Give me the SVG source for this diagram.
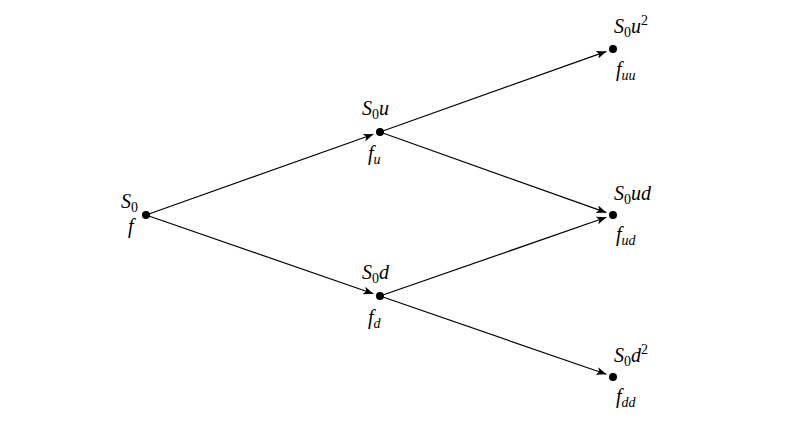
<svg xmlns="http://www.w3.org/2000/svg" width="800" height="424" viewBox="0 0 800 424">
<style>
text{font-family:"Liberation Serif","DejaVu Serif",serif;font-style:italic;font-size:20px;fill:#000}
.sub{font-size:14px}
.c line{stroke:#000;stroke-width:1.2;marker-end:url(#a)}
</style>
<defs><marker id="a" viewBox="0 0 10 8" refX="10" refY="4" markerWidth="10" markerHeight="8" markerUnits="userSpaceOnUse" orient="auto"><path d="M0,0 L10,4 L0,8 L2.5,4Z" fill="#000"/></marker></defs>
<rect width="800" height="424" fill="#fff"/>
<g class="c">
<line x1="146" y1="215" x2="373.4" y2="134.3"/>
<line x1="146" y1="215" x2="373.4" y2="293.7"/>
<line x1="380" y1="132" x2="606.4" y2="51.4"/>
<line x1="380" y1="132" x2="606.4" y2="212.6"/>
<line x1="380" y1="296" x2="606.4" y2="217.3"/>
<line x1="380" y1="296" x2="606.4" y2="374.3"/>
</g>
<g id="root"><circle cx="146" cy="215" r="4"/><text x="121" y="208">S<tspan class="sub" font-style="normal" dy="4">0</tspan></text><text x="128" y="233">f</text></g>
<g id="u"><circle cx="380" cy="132" r="4"/><text x="362" y="115">S<tspan class="sub" font-style="normal" dy="4">0</tspan><tspan dy="-4">u</tspan></text><text x="368" y="160">f<tspan class="sub" dy="4">u</tspan></text></g>
<g id="d"><circle cx="380" cy="296" r="4"/><text x="362" y="279">S<tspan class="sub" font-style="normal" dy="4">0</tspan><tspan dy="-4">d</tspan></text><text x="368" y="324">f<tspan class="sub" dy="4">d</tspan></text></g>
<g id="uu"><circle cx="613" cy="49" r="4"/><text x="614" y="33">S<tspan class="sub" font-style="normal" dy="4">0</tspan><tspan dy="-4">u</tspan><tspan class="sub" font-style="normal" dy="-8">2</tspan></text><text x="616" y="76">f<tspan class="sub" dy="4">uu</tspan></text></g>
<g id="ud"><circle cx="613" cy="215" r="4"/><text x="614" y="200">S<tspan class="sub" font-style="normal" dy="4">0</tspan><tspan dy="-4">ud</tspan></text><text x="616" y="241">f<tspan class="sub" dy="4">ud</tspan></text></g>
<g id="dd"><circle cx="613" cy="377" r="4"/><text x="614" y="362">S<tspan class="sub" font-style="normal" dy="4">0</tspan><tspan dy="-4">d</tspan><tspan class="sub" font-style="normal" dy="-8">2</tspan></text><text x="616" y="403">f<tspan class="sub" dy="4">dd</tspan></text></g>
</svg>
